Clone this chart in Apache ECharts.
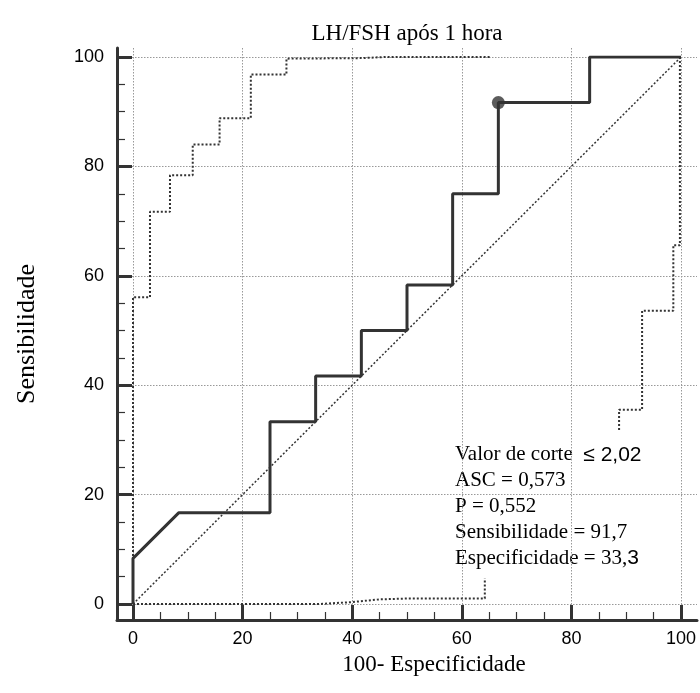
<!DOCTYPE html>
<html><head><meta charset="utf-8">
<script src="https://cdn.jsdelivr.net/npm/echarts@6/dist/echarts.min.js"></script>
<style>html,body{margin:0;padding:0;background:#fff}#c{width:700px;height:693px}</style>
</head><body><div id="c"></div>
<script>
const titleText = 'LH/FSH após 1 hora';
const xName = '100- Especificidade';
const yName = 'Sensibilidade';

// tick values (both axes)
const majorTicks = [0, 20, 40, 60, 80, 100];
const minorTicks = [5, 10, 15, 25, 30, 35, 45, 50, 55, 65, 70, 75, 85, 90, 95];

// ROC curve (100-Specificity, Sensitivity)
const rocX = [0, 0, 8.33, 25, 25, 33.33, 33.33, 41.67, 41.67, 50, 50, 58.33, 58.33, 66.67, 66.67, 83.33, 83.33, 100];
const rocY = [0, 8.33, 16.67, 16.67, 33.33, 33.33, 41.67, 41.67, 50, 50, 58.33, 58.33, 75, 75, 91.67, 91.67, 100, 100];
// optimal cut-off point
const cutX = [66.67];
const cutY = [91.67];
// reference diagonal
const diagX = [0, 100];
const diagY = [0, 100];
// upper confidence bound
const upperX = [0, 0, 3.1, 3.1, 6.75, 6.75, 10.9, 10.9, 15.8, 15.8, 21.5, 21.5, 28.0, 28.0, 42, 46, 65.1];
const upperY = [0, 56.1, 56.1, 71.7, 71.7, 78.4, 78.4, 84.0, 84.0, 88.8, 88.8, 96.8, 96.8, 99.7, 99.8, 100, 100];
// lower confidence bound (bottom part)
const lowerX = [0, 34, 40, 45, 50, 64.2, 64.2];
const lowerY = [0, 0, 0.35, 0.85, 1.0, 1.0, 4.7];
// lower confidence bound (right part)
const rightX = [88.7, 88.7, 92.9, 92.9, 98.6, 98.6, 99.8, 99.8];
const rightY = [31.8, 35.5, 35.5, 53.6, 53.6, 65.6, 65.6, 100];

const statLines = ['Valor de corte  {s|≤ 2,02}', 'ASC = 0,573', 'P = 0,552', 'Sensibilidade = 91,7', 'Especificidade = 33,{s|3}'];

const zip = (a, b) => a.map((v, i) => [v, b[i]]);
const serif = '"Liberation Serif", "Times New Roman", serif';
const sans = '"Liberation Sans", Arial, sans-serif';
const dark = '#333';

// frame axes extend a little past the data area (0..100)
const frameX = [-2.92, 102.92];
const frameY = [-2.925, 101.65];

const gridLine = {show: true, lineStyle: {color: '#999', type: [1.5, 1.5], width: 1}};

function frameAxis(dim, isMajor) {
  const ext = dim === 'x' ? frameX : frameY;
  const ax = {
    gridIndex: 1, type: 'value', min: ext[0], max: ext[1],
    position: dim === 'x' ? 'bottom' : 'left', offset: 0,
    axisLine: {show: isMajor, onZero: false, lineStyle: {width: 3, color: dark}},
    axisTick: {show: true, inside: true, customValues: isMajor ? majorTicks : minorTicks,
               length: isMajor ? 15 : 8, lineStyle: {width: isMajor ? 3 : 1.2, color: dark}},
    axisLabel: isMajor
      ? {show: true, customValues: majorTicks, margin: dim === 'x' ? 10 : 13, fontSize: 18, fontFamily: sans, color: '#000'}
      : {show: false},
    splitLine: isMajor ? gridLine : {show: false}
  };
  if (isMajor && dim === 'y') {
    ax.name = yName;
    ax.nameLocation = 'middle';
    ax.nameGap = 77;
    ax.nameTextStyle = {fontSize: 26, fontFamily: serif, color: '#000'};
  }
  return ax;
}

const chart = echarts.init(document.getElementById('c'), null, {renderer: 'canvas'});
chart.setOption({
  animation: false,
  backgroundColor: '#fff',
  grid: [
    {left: 133, top: 57, width: 548, height: 547},      // data grid
    {left: 117, top: 48, right: 3, bottom: 73}            // axis frame
  ],
  xAxis: [
    {gridIndex: 0, type: 'value', min: 0, max: 100, show: false},
    frameAxis('x', true),
    frameAxis('x', false)
  ],
  yAxis: [
    {gridIndex: 0, type: 'value', min: 0, max: 100, show: false},
    frameAxis('y', true),
    frameAxis('y', false)
  ],
  series: [
    {type: 'line', xAxisIndex: 0, yAxisIndex: 0, data: zip(diagX, diagY), showSymbol: false, silent: true,
     lineStyle: {color: dark, width: 1.5, type: [2, 2]}},
    {type: 'line', xAxisIndex: 0, yAxisIndex: 0, data: zip(upperX, upperY), showSymbol: false, silent: true,
     lineStyle: {color: dark, width: 2, type: [2, 2]}},
    {type: 'line', xAxisIndex: 0, yAxisIndex: 0, data: zip(lowerX, lowerY), showSymbol: false, silent: true,
     lineStyle: {color: dark, width: 2, type: [2, 2]}},
    {type: 'line', xAxisIndex: 0, yAxisIndex: 0, data: zip(rightX, rightY), showSymbol: false, silent: true,
     lineStyle: {color: dark, width: 2, type: [2, 2]}},
    {type: 'line', xAxisIndex: 0, yAxisIndex: 0, data: zip(rocX, rocY), showSymbol: false, silent: true,
     lineStyle: {color: dark, width: 3}},
    {type: 'scatter', xAxisIndex: 0, yAxisIndex: 0, data: zip(cutX, cutY), symbol: 'circle', symbolSize: 13,
     itemStyle: {color: dark}, silent: true}
  ],
  graphic: [
    {type: 'text', x: 407, y: 34, silent: true,
     style: {text: titleText, fontSize: 23, fontFamily: serif, fill: '#000',
             align: 'center', verticalAlign: 'middle', textAlign: 'center', textVerticalAlign: 'middle'}},
    {type: 'text', x: 434, y: 665, silent: true,
     style: {text: xName, fontSize: 23, fontFamily: serif, fill: '#000',
             align: 'center', verticalAlign: 'middle', textAlign: 'center', textVerticalAlign: 'middle'}},
    {type: 'text', x: 455, y: 442, silent: true,
     style: {text: statLines.join('\n'), fontSize: 21, fontFamily: serif, fill: '#000', lineHeight: 25.8,
             align: 'left', verticalAlign: 'top',
             rich: {s: {fontSize: 21, fontFamily: sans, fill: '#000', lineHeight: 25.8}}}}
  ]
});
</script></body></html>
